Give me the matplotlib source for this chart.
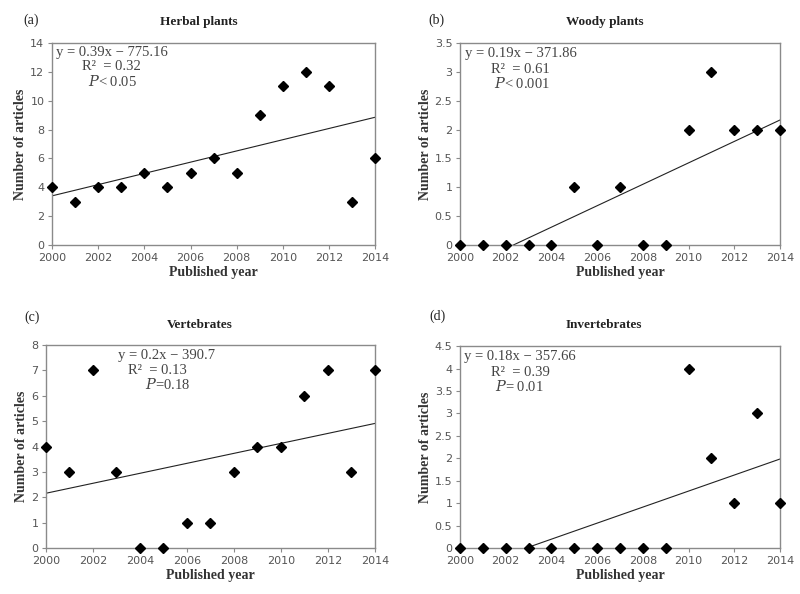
import numpy as np
import matplotlib.pyplot as plt

plt.rcParams['font.family'] = ['DejaVu Sans']
plt.rcParams['mathtext.fontset'] = 'dejavuserif'

years = np.arange(2000, 2015)
herbal = [4, 3, 4, 4, 5, 4, 5, 6, 5, 9, 11, 12, 11, 3, 6]
woody = [0, 0, 0, 0, 0, 1, 0, 1, 0, 0, 2, 3, 2, 2, 2]
verte = [4, 3, 7, 3, 0, 0, 1, 1, 3, 4, 4, 6, 7, 3, 7]
inverte = [0, 0, 0, 0, 0, 0, 0, 0, 0, 0, 4, 2, 1, 3, 1]

titles = ['Herbal plants', 'Woody plants', 'Vertebrates', 'Invertebrates']
tags = ['(a)', '(b)', '(c)', '(d)']
eqs = ['y = 0.39x \u2212 775.16', 'y = 0.19x \u2212 371.86',
       'y = 0.2x \u2212 390.7', 'y = 0.18x \u2212 357.66']
r2s = ['0.32', '0.61', '0.13', '0.39']
ps = ['< 0.05', '< 0.001', '=0.18', '= 0.01']
ymaxs = [14, 3.5, 8, 4.5]
ysteps = [2, 0.5, 1, 0.5]

# axes boxes [left, bottom, width, height]
boxes = [[0.065, 0.5875, 0.404, 0.340],
         [0.575, 0.5875, 0.400, 0.340],
         [0.0575, 0.0774, 0.411, 0.3418],
         [0.575, 0.0774, 0.400, 0.340]]
# text anchors (axes fraction): eq, r2, p
txtpos = [[(0.012, 0.955), (0.093, 0.886), (0.111, 0.812)],
          [(0.016, 0.950), (0.097, 0.871), (0.106, 0.800)],
          [(0.219, 0.946), (0.250, 0.872), (0.300, 0.803)],
          [(0.012, 0.946), (0.097, 0.871), (0.110, 0.800)]]
titlepos = [(199, 22), (605, 22), (200, 325), (604, 325)]
tagpos = [(31, 20), (436, 20), (32, 317), (437, 316)]

fig = plt.figure(figsize=(8, 5.94), dpi=100)
gray = '#555555'
serif = ['Liberation Serif', 'DejaVu Serif']

for i, data in enumerate([herbal, woody, verte, inverte]):
    ax = fig.add_axes(boxes[i])
    y = np.array(data)
    k, b = np.polyfit(years, y, 1)
    ax.plot(years, k * years + b, color='#222222', lw=0.8)
    ax.plot(years, y, 'D', color='black', ms=5, clip_on=False, zorder=5)
    ax.set_xlim(2000, 2014)
    ax.set_ylim(0, ymaxs[i])
    ax.set_xticks(np.arange(2000, 2015, 2))
    yt = np.arange(0, ymaxs[i] + 1e-9, ysteps[i])
    ax.set_yticks(yt)
    ax.set_yticklabels(['%g' % v for v in yt])
    for s in ax.spines.values():
        s.set_color('#8a8a8a')
        s.set_linewidth(1.0)
    ax.tick_params(direction='out', length=3, color='#8a8a8a', labelsize=8,
                   labelcolor=gray, pad=2.5)
    ax.set_xlabel('Published year', family=serif, fontweight='bold',
                  fontsize=10, color='#333333', labelpad=2.5)
    ax.set_ylabel('Number of articles', family=serif, fontweight='bold',
                  fontsize=10, color='#333333', labelpad=2)
    (x1, y1), (x2, y2), (x3, y3) = txtpos[i]
    ax.text(x1, y1, eqs[i], transform=ax.transAxes, family=serif,
            fontsize=10.5, color='#444444', va='center')
    ax.text(x2, y2, 'R\u00b2  = ' + r2s[i], transform=ax.transAxes, family=serif,
            fontsize=10.5, color='#444444', va='center')
    ax.text(x3, y3, '$P$' + ps[i], transform=ax.transAxes, family=serif,
            fontsize=10.5, color='#444444', va='center')
    tx, ty = titlepos[i]
    fig.text(tx / 800, 1 - ty / 594, titles[i], family=serif, fontweight='bold',
             fontsize=9.5, color='#222222', ha='center', va='center')
    gx, gy = tagpos[i]
    fig.text(gx / 800, 1 - gy / 594, tags[i], family=serif, fontsize=10,
             color='#222222', ha='center', va='center')

fig.savefig('out.png', dpi=100)
